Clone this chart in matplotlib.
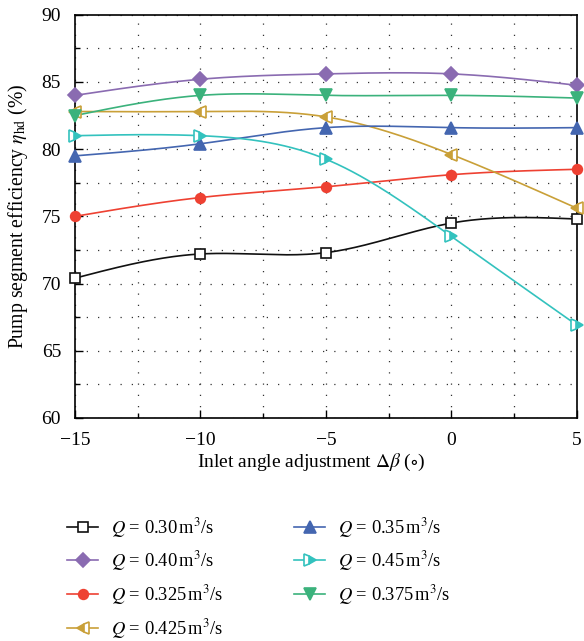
import numpy as np
import matplotlib
matplotlib.use("Agg")
import matplotlib.pyplot as plt
from matplotlib.ticker import MultipleLocator

plt.rcParams["font.family"] = ["Liberation Serif", "DejaVu Serif"]
plt.rcParams["mathtext.fontset"] = "stix"

# Inlet angle adjustment (degrees)
delta_beta = [-15, -10, -5, 0, 5]

# Pump segment efficiency (%) for each flow rate
eta_030 = [70.4, 72.2, 72.3, 74.5, 74.8]
eta_040 = [84.0, 85.2, 85.6, 85.6, 84.75]
eta_0325 = [75.0, 76.4, 77.2, 78.1, 78.5]
eta_0425 = [82.8, 82.8, 82.4, 79.6, 75.6]
eta_035 = [79.5, 80.4, 81.6, 81.6, 81.6]
eta_045 = [81.0, 81.0, 79.25, 73.5, 66.9]
eta_0375 = [82.5, 84.0, 84.0, 84.0, 83.8]

labels = ["0.30", "0.40", "0.325", "0.425", "0.35", "0.45", "0.375"]


def natural_spline(x, y, n=200):
    """Smooth curve through the points (natural cubic spline)."""
    x = np.asarray(x, float)
    y = np.asarray(y, float)
    k = len(x)
    h = np.diff(x)
    A = np.zeros((k, k))
    b = np.zeros(k)
    A[0, 0] = A[-1, -1] = 1.0
    for i in range(1, k - 1):
        A[i, i - 1] = h[i - 1]
        A[i, i] = 2 * (h[i - 1] + h[i])
        A[i, i + 1] = h[i]
        b[i] = 6 * ((y[i + 1] - y[i]) / h[i] - (y[i] - y[i - 1]) / h[i - 1])
    M = np.linalg.solve(A, b)
    xs = np.linspace(x[0], x[-1], n)
    idx = np.clip(np.searchsorted(x, xs) - 1, 0, k - 2)
    x0, x1 = x[idx], x[idx + 1]
    hh = x1 - x0
    t0 = x1 - xs
    t1 = xs - x0
    ys = (M[idx] * t0 ** 3 / (6 * hh) + M[idx + 1] * t1 ** 3 / (6 * hh)
          + (y[idx] / hh - M[idx] * hh / 6) * t0
          + (y[idx + 1] / hh - M[idx + 1] * hh / 6) * t1)
    return xs, ys


series = [
    (eta_030, "#111111", dict(marker="s", markersize=7, markerfacecolor="white")),
    (eta_040, "#8A6BB1", dict(marker="D", markersize=7)),
    (eta_0325, "#EE4132", dict(marker="o", markersize=7)),
    (eta_0425, "#C9A038", dict(marker="<", markersize=9, fillstyle="left",
                                markerfacecoloralt="white")),
    (eta_035, "#4466B0", dict(marker="^", markersize=8.5)),
    (eta_045, "#33C2BE", dict(marker=">", markersize=9, fillstyle="right",
                               markerfacecoloralt="white")),
    (eta_0375, "#3BB27C", dict(marker="v", markersize=8.5)),
]

fig = plt.figure(figsize=(5.84, 6.41), dpi=100)
ax = fig.add_axes([0.1284, 0.348, 0.8596, 0.629])

handles = []
for (vals, color, mk), lab in zip(series, labels):
    xs, ys = natural_spline(delta_beta, vals)
    ax.plot(xs, ys, color=color, lw=1.2, zorder=2)
    ax.plot(delta_beta, vals, linestyle="none", color=color,
            markeredgecolor=color, markeredgewidth=1.2, zorder=3,
            clip_on=False, **mk)
    h, = ax.plot([], [], color=color, lw=1.2, markeredgecolor=color,
                 markeredgewidth=1.2, **mk)
    h.set_label(r"$Q$ = " + lab + r"$\,$m$^3$/s")
    handles.append(h)

ax.set_xlim(-15, 5)
ax.set_ylim(60, 90)
ax.xaxis.set_major_locator(MultipleLocator(5))
ax.xaxis.set_minor_locator(MultipleLocator(2.5))
ax.yaxis.set_major_locator(MultipleLocator(5))
ax.yaxis.set_minor_locator(MultipleLocator(2.5))
ax.xaxis.set_major_formatter(plt.FuncFormatter(
    lambda v, p: f"{int(v)}".replace("-", "\u2212")))
ax.tick_params(which="both", direction="in", labelsize=14, top=False,
               right=False, width=1.0)
ax.tick_params(which="major", length=6)
ax.tick_params(axis="x", which="major", pad=10)
ax.tick_params(axis="y", which="major", pad=10)
ax.tick_params(which="minor", length=3.5)
for s in ax.spines.values():
    s.set_linewidth(1.2)

ax.grid(True, which="both", color="#333333", linestyle=(0, (1, 8)),
        linewidth=0.9)
ax.set_axisbelow(True)

ax.set_xlabel(r"Inlet angle adjustment $\Delta\beta$ ($\circ$)",
              fontsize=14, labelpad=6)
ax.xaxis.set_label_coords(0.47, -0.085)
ax.set_ylabel(r"Pump segment efficiency $\eta_{\rm hd}$ (%)",
              fontsize=14.2, labelpad=8)

fig.legend(handles=handles, ncol=2, loc="upper left",
           bbox_to_anchor=(0.102, 0.207), frameon=False, fontsize=13.3,
           handlelength=1.7, handletextpad=0.7, columnspacing=3.8,
           labelspacing=0.53, borderaxespad=0)

fig.savefig("out.png", dpi=100)
